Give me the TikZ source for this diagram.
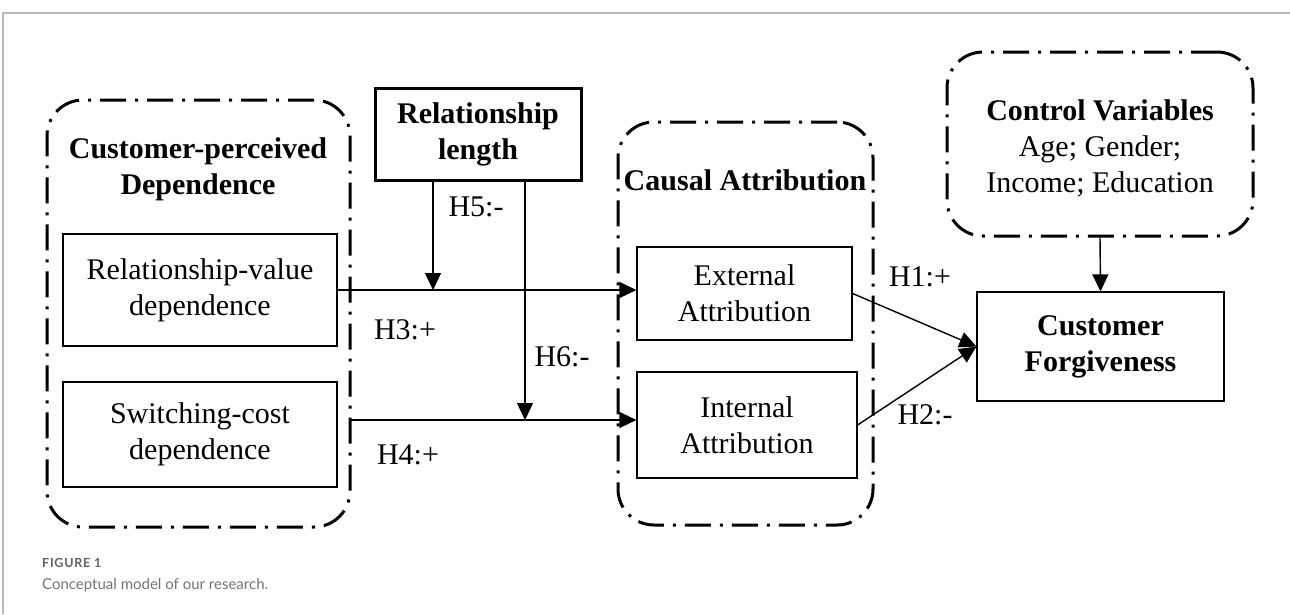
\documentclass[tikz,border=0pt]{standalone}
\usepackage{fontspec}
\setmainfont{Liberation Serif}
\newfontfamily\capfont{Lato}
\newfontfamily\capbold[LetterSpace=6]{Lato Bold}
\usetikzlibrary{arrows.meta}
\newcommand{\rfont}{\fontsize{30}{36}\selectfont}
\newcommand{\bfont}{\fontsize{30}{36}\selectfont\bfseries}
\tikzset{
  sbox/.style={draw, line width=1.2pt, inner sep=0pt, align=center, font=\rfont},
  thickbox/.style={draw, line width=3pt, inner sep=0pt, align=center, font=\bfont},
  ddbox/.style={draw, line width=3pt, rounded corners=36pt, inner sep=0pt,
    dash pattern=on 26pt off 9pt on 3pt off 9pt},
  arr/.style={line width=1.4pt, -{Triangle[length=17pt,width=16pt]}},
  lbl/.style={font=\rfont, inner sep=0pt},
  frame/.style={draw=black!28, line width=1.5pt},
}
\begin{document}
\begin{tikzpicture}[x=1pt,y=-1pt]
\useasboundingbox (0,0) rectangle (1290,614);
% panel frame
\draw[frame] (3,614) -- (3,13) -- (1290,13);
% group boxes
\node[ddbox, minimum width=303pt, minimum height=427pt] (cpd) at (198.5,313.5) {};
\node[font=\bfont, align=center, inner sep=0pt] (cpdt) at (198,169) {Customer-perceived\\Dependence};
\node[ddbox, minimum width=255pt, minimum height=403pt] (ca) at (745.5,323.5) {};
\node[font=\bfont, inner sep=0pt] (cat) at (745,180) {Causal Attribution};
\node[ddbox, minimum width=306pt, minimum height=184pt] (cv) at (1100,144) {};
\node[font=\rfont, align=center, inner sep=0pt] (cvt) at (1100,148) {\textbf{Control Variables}\\Age; Gender;\\Income; Education};
% boxes
\node[sbox, minimum width=274pt, minimum height=112pt] (rv) at (200,290) {Relationship-value\\dependence};
\node[sbox, minimum width=274pt, minimum height=105pt] (sc) at (200,434.5) {Switching-cost\\dependence};
\node[thickbox, minimum width=206pt, minimum height=92pt] (rl) at (478,134) {Relationship\\length};
\node[sbox, minimum width=215pt, minimum height=93pt] (ea) at (744.5,293.5) {External\\Attribution};
\node[sbox, minimum width=220pt, minimum height=106pt] (ia) at (747,425) {Internal\\Attribution};
\node[sbox, font=\bfont, minimum width=247pt, minimum height=109pt] (cf) at (1100.5,346.5) {Customer\\Forgiveness};
% connectors
\coordinate (h3s) at (rv.east |- 0,290);
\coordinate (h4s) at (351,420);
\draw[arr] (h3s) -- (h3s -| ea.west);
\draw[arr] (h4s) -- (h4s -| ia.west);
\draw[arr] ([xshift=-45pt]rl.south) -- ([xshift=-45pt]rl.south |- h3s);
\draw[arr] ([xshift=47pt]rl.south) -- ([xshift=47pt]rl.south |- h4s);
\draw[arr] (ea.east) -- (cf.west);
\draw[arr] (ia.east) -- (cf.west);
\draw[arr] (cv.south) -- (cf.north);
% labels
\node[lbl] (l5) at (476,207) {H5:-};
\node[lbl] (l3) at (405,330) {H3:+};
\node[lbl] (l6) at (562,357) {H6:-};
\node[lbl] (l4) at (408,455) {H4:+};
\node[lbl] (l1) at (920,277) {H1:+};
\node[lbl] (l2) at (925,415) {H2:-};
% caption
\node[anchor=base west, inner sep=0pt, text=black!62, font=\capbold\fontsize{12.5}{15}\selectfont] (fig) at (42,567) {FIGURE 1};
\node[anchor=base west, inner sep=0pt, text=black!55, font=\capfont\fontsize{15}{18}\selectfont] (cap) at (42,589) {Conceptual model of our research.};
\end{tikzpicture}
\end{document}
